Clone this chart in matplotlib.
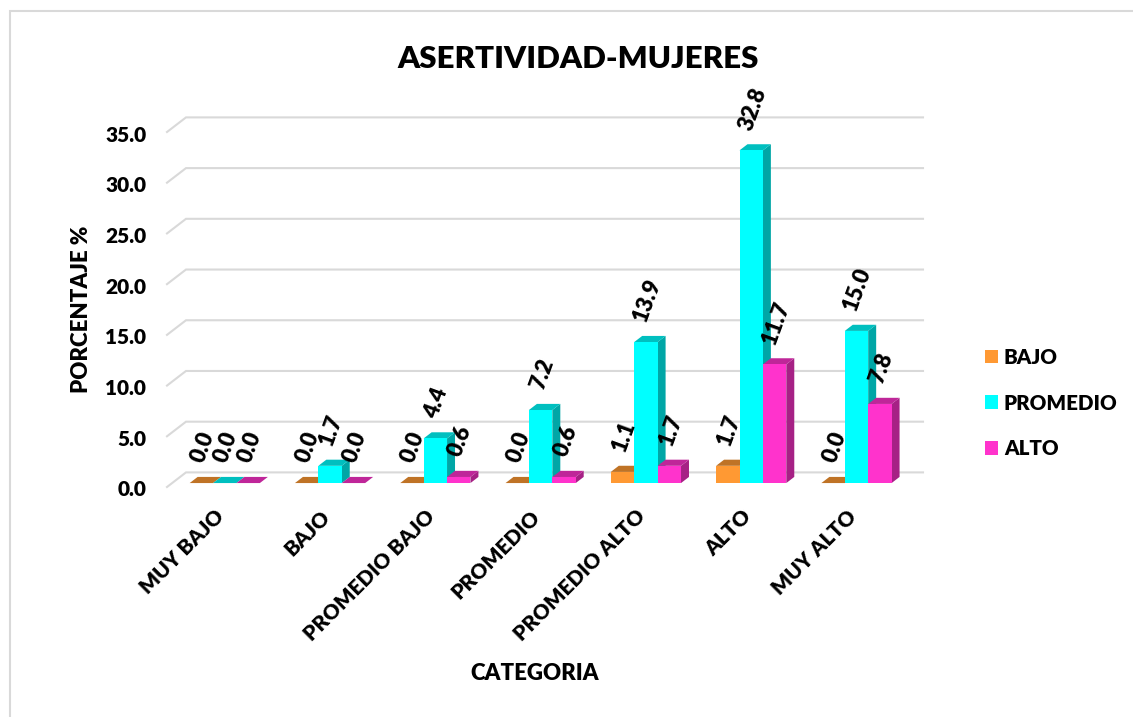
# -*- coding: utf-8 -*-
from matplotlib import pyplot as plt
from matplotlib.patches import Polygon, Rectangle
from matplotlib.colors import to_rgb
from matplotlib.transforms import ScaledTranslation
import numpy as np

categorias = ["MUY BAJO", "BAJO", "PROMEDIO BAJO", "PROMEDIO", "PROMEDIO ALTO", "ALTO", "MUY ALTO"]
bajo = [0.0, 0.0, 0.0, 0.0, 1.1, 1.7, 0.0]
promedio = [0.0, 1.7, 4.4, 7.2, 13.9, 32.8, 15.0]
alto = [0.0, 0.0, 0.6, 0.6, 1.7, 11.7, 7.8]
y_ticks = [0, 5, 10, 15, 20, 25, 30, 35]

colores = ['#FF9933', '#00FFFF', '#FF33CC']
nombres = ['BAJO', 'PROMEDIO', 'ALTO']

W, H = 1133, 717
plt.rcParams['font.family'] = ['Lato', 'DejaVu Sans']
plt.rcParams['font.weight'] = 'heavy'

fig = plt.figure(figsize=(W / 100, H / 100), dpi=100)
# front plane of the fake 3d box, in pixels
left, right, bottom, top = 167, 904, 487, 132
ax = fig.add_axes([left / W, 1 - bottom / H, (right - left) / W, (bottom - top) / H])
ax.set_xlim(-0.5, 6.5)
ax.set_ylim(0, 35)
for s in ax.spines.values():
    s.set_visible(False)

# depth of the box in data units
dx = 19 / 105.3
dy = 14.6 / 10.14
z0, z1 = 0.27, 0.69   # where bars sit inside the depth
gris = '#D9D9D9'

# gridlines: diagonal at the side wall then along the back
for t in y_ticks:
    ax.plot([-0.5, -0.5 + dx, 6.5 + dx], [t, t + dy, t + dy], color=gris, lw=1.5,
            clip_on=False, zorder=1, solid_joinstyle='miter')

ancho = 23.4 / 105.3
x = np.arange(len(categorias))
series = [bajo, promedio, alto]
barras = []


def oscuro(c, f):
    return tuple(v * f for v in to_rgb(c))


for k, vals in enumerate(series):
    xs = x + (k - 1) * ancho + z0 * dx
    base = z0 * dy
    prof_x = (z1 - z0) * dx
    prof_y = (z1 - z0) * dy
    for xi, v in zip(xs, vals):
        x0, x1 = xi - ancho / 2, xi + ancho / 2
        yt = base + v
        ax.add_patch(Polygon([(x1, base), (x1 + prof_x, base + prof_y), (x1 + prof_x, yt + prof_y), (x1, yt)],
                             closed=True, fc=oscuro(colores[k], 0.65), ec='none', zorder=2 + k, clip_on=False))
        ax.add_patch(Polygon([(x0, yt), (x0 + prof_x, yt + prof_y), (x1 + prof_x, yt + prof_y), (x1, yt)],
                             closed=True, fc=oscuro(colores[k], 0.75), ec='none', zorder=2 + k, clip_on=False))
    b = ax.bar(xs, vals, width=ancho, bottom=base, color=colores[k], zorder=2 + k, label=nombres[k], clip_on=False)
    barras.append(b)
    for xi, v in zip(xs, vals):
        ax.text(xi + 0.012, base + v + 1.7, "%.1f" % v, rotation=70, ha='center', va='bottom',
                fontsize=16, color='black', zorder=10, clip_on=False)

ax.set_yticks(y_ticks)
ax.set_yticklabels(["%.1f" % t for t in y_ticks], fontsize=15)
ax.set_xticks(x - 0.05)
ax.set_xticklabels(categorias, rotation=45, ha='right', rotation_mode='anchor', fontsize=15)
ax.tick_params(axis='both', length=0)
ax.tick_params(axis='y', pad=15)
ax.tick_params(axis='x', pad=14)

# y labels sit a little lower than the gridline start
baja = ScaledTranslation(0, -1.5 / 100, fig.dpi_scale_trans)
for lab in ax.get_yticklabels():
    lab.set_transform(lab.get_transform() + baja)

fig.text(578 / W, 1 - 59 / H, "ASERTIVIDAD-MUJERES", ha='center', va='center', fontsize=22.5)
fig.text(535 / W, 1 - 674 / H, "CATEGORIA", ha='center', va='center', fontsize=16)
fig.text(81 / W, 1 - 309 / H, "PORCENTAJE %", ha='center', va='center', rotation=90, fontsize=16)

fig.legend(handles=barras, loc='center left', bbox_to_anchor=(966 / W, 1 - 403 / H), frameon=False,
           fontsize=14.8, handlelength=0.64, handleheight=0.64, handletextpad=0.3, labelspacing=1.3)

# chart border, only left and top fall inside the picture
fig.add_artist(Rectangle((10.5 / W, -0.05), 1.1, 1.05 + (1 - 11 / H) - 1, transform=fig.transFigure,
                         fill=False, ec=gris, lw=1.5))

fig.savefig('out.png', dpi=100)
